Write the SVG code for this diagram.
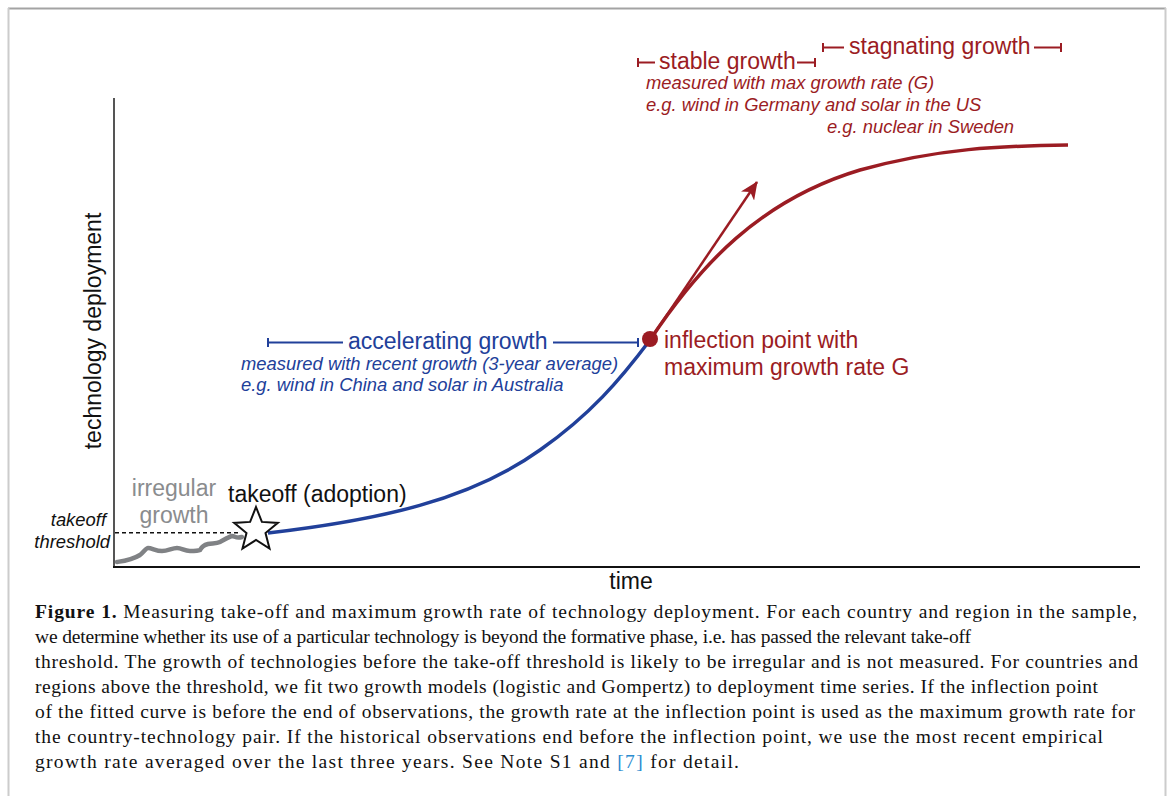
<svg xmlns="http://www.w3.org/2000/svg" width="1169" height="796" viewBox="0 0 1169 796">
<defs>
<style>
.sans{font-family:"Liberation Sans",Arial,sans-serif}
.red{fill:#9b1c23}
.blue{fill:#21409a}
.lab{font-size:23px}
.it{font-size:18.4px;font-style:italic}
.cap{font-family:"Liberation Serif","Times New Roman",serif;font-size:19.5px;fill:#111}
.rb{stroke:#9b1c23;stroke-width:2;fill:none}
.bb{stroke:#21409a;stroke-width:2;fill:none}
</style>
<marker id="ah" viewBox="0 0 18 16" refX="17" refY="8" markerWidth="18" markerHeight="16" orient="auto" markerUnits="userSpaceOnUse">
<path d="M0,0 L18,8 L0,16 L5,8 z" fill="#9b1c23"/>
</marker>
</defs>
<rect width="1169" height="796" fill="#fff"/>
<g id="frame">
<line x1="8" y1="8.5" x2="1166" y2="8.5" stroke="#a3a3a3" stroke-width="2"/>
<line x1="8.5" y1="8" x2="8.5" y2="796" stroke="#cccccc" stroke-width="2"/>
<line x1="1165.5" y1="8" x2="1165.5" y2="796" stroke="#cccccc" stroke-width="2"/>
</g>
<g id="axes">
<line x1="114" y1="98" x2="114" y2="567" stroke="#555" stroke-width="2"/>
<line x1="113" y1="567" x2="1140" y2="567" stroke="#111" stroke-width="2"/>
<text class="sans lab" x="631" y="589" text-anchor="middle" fill="#111">time</text>
<text class="sans lab" transform="translate(101,331) rotate(-90)" text-anchor="middle" fill="#111">technology deployment</text>
</g>
<g id="connectors">
<line x1="115" y1="532.7" x2="240" y2="532.7" stroke="#111" stroke-width="1.6" stroke-dasharray="4,3"/>
<path d="M117,562 C124,561 132,560 140,555 C144,552 146,548 148,548 C152,548 156,551 162,551 C168,551 172,548 177,548 C182,548 184,551 190,551 C195,551 198,551 200,550 C202,546 204,545 208,544 C212,543 216,544 220,542 C224,540 228,537 232,536 C235,536 236,539 242,537" fill="none" stroke="#808285" stroke-width="4.5" stroke-linecap="round"/>
<path d="M268,533 C380,520 470,500 540,450 C590,415 620,380 650,340" fill="none" stroke="#21409a" stroke-width="3.5"/>
<path d="M650,340 C700,265 760,200 860,170 C940,148 1000,146 1068,145" fill="none" stroke="#9b1c23" stroke-width="3.5"/>
<line x1="650" y1="340" x2="757" y2="182" stroke="#9b1c23" stroke-width="2.5" marker-end="url(#ah)"/>
</g>
<g id="takeoff-star">
<polygon points="256,507 261.88,521.91 277.87,522.89 265.51,533.09 269.52,548.61 256,540 242.48,548.61 246.49,533.09 234.13,522.89 250.12,521.91" fill="#fff" stroke="#111" stroke-width="2" stroke-linejoin="miter"/>
<text class="sans lab" x="228" y="502" fill="#111">takeoff (adoption)</text>
</g>
<g id="threshold-label">
<text class="sans it" x="106" y="526" text-anchor="end" fill="#111">takeoff</text>
<text class="sans it" x="110" y="548" text-anchor="end" fill="#111">threshold</text>
</g>
<g id="irregular-growth">
<text class="sans lab" x="174" y="496" text-anchor="middle" fill="#8a8c8e">irregular</text>
<text class="sans lab" x="174" y="523" text-anchor="middle" fill="#8a8c8e">growth</text>
</g>
<g id="accelerating-growth">
<path class="bb" d="M268,338 V347 M268,342.5 H343 M553,342.5 H638 M638,338 V347"/>
<text class="sans lab blue" x="348" y="349">accelerating growth</text>
<text class="sans it blue" x="241" y="370">measured with recent growth (3-year average)</text>
<text class="sans it blue" x="241" y="391">e.g. wind in China and solar in Australia</text>
</g>
<g id="inflection-point">
<circle cx="650" cy="339" r="8" fill="#9b1c23"/>
<text class="sans lab red" x="664" y="348">inflection point with</text>
<text class="sans lab red" x="664" y="375">maximum growth rate G</text>
</g>
<g id="stable-growth">
<path class="rb" d="M638,58 V67 M638,62.5 H655 M797,62.5 H815 M815,58 V67"/>
<text class="sans lab red" x="659" y="69">stable growth</text>
<text class="sans it red" x="646" y="89">measured with max growth rate (G)</text>
<text class="sans it red" x="646" y="111">e.g. wind in Germany and solar in the US</text>
</g>
<g id="stagnating-growth">
<path class="rb" d="M823,43 V52 M823,47.5 H844 M1034,47.5 H1061 M1061,43 V52"/>
<text class="sans lab red" x="849" y="54">stagnating growth</text>
<text class="sans it red" x="827" y="133">e.g. nuclear in Sweden</text>
</g>
<g id="caption">
<text class="cap" x="35" y="618" textLength="1102" lengthAdjust="spacing"><tspan font-weight="bold">Figure 1.</tspan> Measuring take-off and maximum growth rate of technology deployment. For each country and region in the sample,</text>
<text class="cap" x="35" y="643" textLength="936" lengthAdjust="spacing">we determine whether its use of a particular technology is beyond the formative phase, i.e. has passed the relevant take-off</text>
<text class="cap" x="35" y="668" textLength="1103" lengthAdjust="spacing">threshold. The growth of technologies before the take-off threshold is likely to be irregular and is not measured. For countries and</text>
<text class="cap" x="35" y="693" textLength="1063" lengthAdjust="spacing">regions above the threshold, we fit two growth models (logistic and Gompertz) to deployment time series. If the inflection point</text>
<text class="cap" x="35" y="718" textLength="1100" lengthAdjust="spacing">of the fitted curve is before the end of observations, the growth rate at the inflection point is used as the maximum growth rate for</text>
<text class="cap" x="35" y="743" textLength="1068" lengthAdjust="spacing">the country-technology pair. If the historical observations end before the inflection point, we use the most recent empirical</text>
<text class="cap" x="35" y="768" textLength="704" lengthAdjust="spacing">growth rate averaged over the last three years. See Note S1 and <tspan fill="#2b8ccf">[7]</tspan> for detail.</text>
</g>
</svg>
